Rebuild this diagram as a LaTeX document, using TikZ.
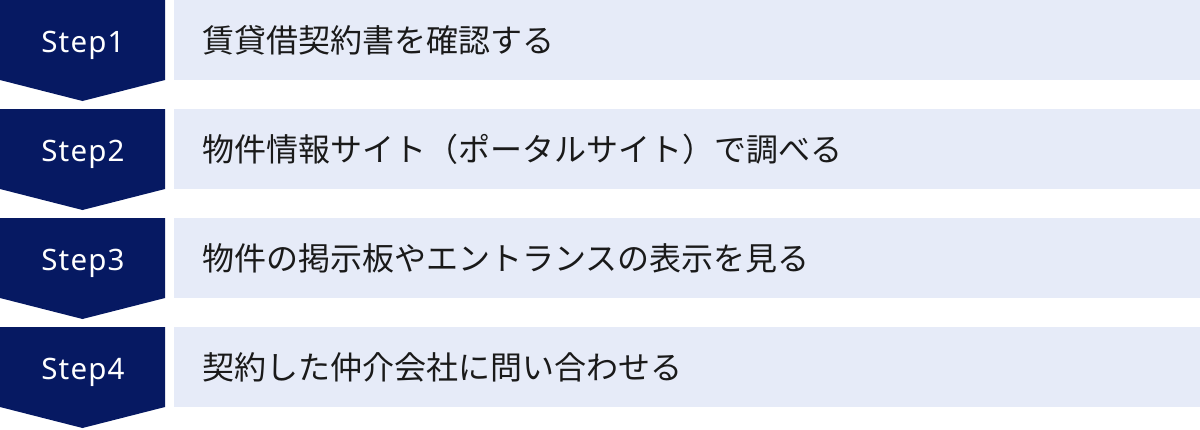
\documentclass[tikz,border=0pt]{standalone}
\usepackage{fontspec}
\newfontfamily\jpfont{Noto Sans CJK JP}
\newfontfamily\stepfont[LetterSpace=4]{Noto Sans}
\usetikzlibrary{positioning}

\definecolor{stepblue}{HTML}{061962}
\definecolor{rowblue}{HTML}{E6EBF8}
\definecolor{rowtext}{HTML}{1A1A1A}

\tikzset{
  steplabel/.style={anchor=base, text=white, inner sep=0pt,
    font=\stepfont\fontsize{29.5}{34}\selectfont},
  rowlabel/.style={anchor=west, text=rowtext, inner sep=0pt,
    font=\jpfont\fontsize{32}{36}\selectfont},
}

\begin{document}
\begin{tikzpicture}[x=1pt,y=1pt]

      \useasboundingbox (0,0) rectangle (1200,-429);

      \fill[stepblue] (0,0) -- (165,0) -- (165,-80) -- (82.5,-101) -- (0,-80) -- cycle;
      \fill[stepblue] (0,-109) -- (165,-109) -- (165,-189) -- (82.5,-210) -- (0,-189) -- cycle;
      \fill[stepblue] (0,-218) -- (165,-218) -- (165,-298) -- (82.5,-319) -- (0,-298) -- cycle;
      \fill[stepblue] (0,-327) -- (165,-327) -- (165,-407) -- (82.5,-428) -- (0,-407) -- cycle;

      \fill[rowblue] (174,0) rectangle (1200,-80);
      \fill[rowblue] (174,-109) rectangle (1200,-189);
      \fill[rowblue] (174,-218) rectangle (1200,-298);
      \fill[rowblue] (174,-327) rectangle (1200,-407);

      \node[steplabel] (step1) at (83,-52) {Step1};
      \node[steplabel] (step2) at (83,-161) {Step2};
      \node[steplabel] (step3) at (83,-270) {Step3};
      \node[steplabel] (step4) at (83,-379) {Step4};

      \node[rowlabel] (row1) at (202,-40) {賃貸借契約書を確認する};
      \node[rowlabel] (row2) at (202,-149) {物件情報サイト（ポータルサイト）で調べる};
      \node[rowlabel] (row3) at (202,-258) {物件の掲示板やエントランスの表示を見る};
      \node[rowlabel] (row4) at (202,-367) {契約した仲介会社に問い合わせる};

    \end{tikzpicture}
\end{document}
